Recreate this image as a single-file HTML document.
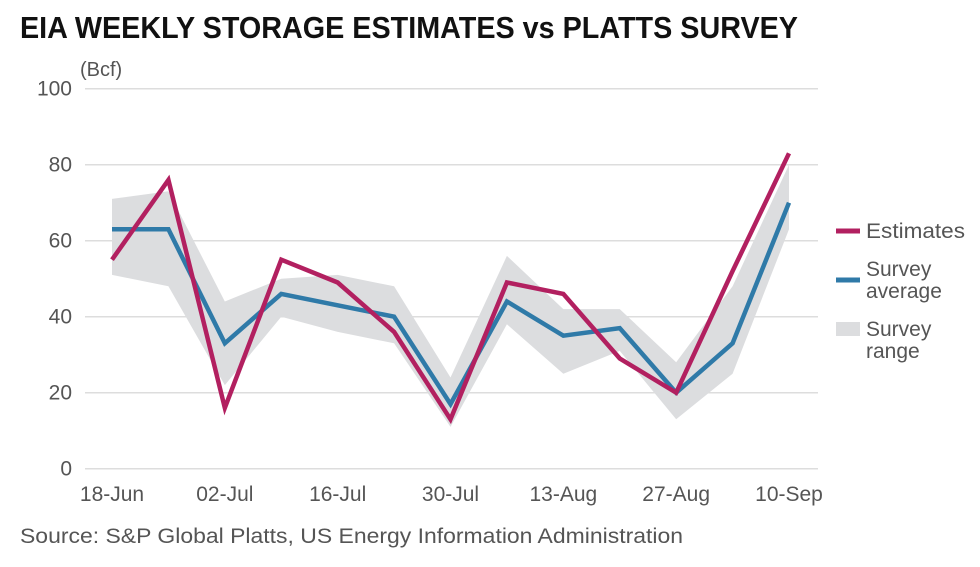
<!DOCTYPE html>
<html><head><meta charset="utf-8"><style>
body{margin:0;background:#fff;width:980px;height:562px;overflow:hidden;font-family:"Liberation Sans",sans-serif}
</style></head><body>
<svg width="980" height="562">
<text x="20" y="38" font-size="31" font-weight="bold" fill="#111" textLength="778" lengthAdjust="spacingAndGlyphs">EIA WEEKLY STORAGE ESTIMATES vs PLATTS SURVEY</text>
<text x="80" y="76" font-size="20" fill="#555">(Bcf)</text>
<g id="grid"></g><g id="plot"></g>
<g>
<line x1="836" y1="231" x2="860" y2="231" stroke="#b22060" stroke-width="5"/>
<text x="866" y="238" font-size="21" fill="#555" textLength="99" lengthAdjust="spacingAndGlyphs">Estimates</text>
<line x1="836" y1="280" x2="860" y2="280" stroke="#2f7aa8" stroke-width="5"/>
<text x="866" y="276" font-size="21" fill="#555">Survey</text>
<text x="866" y="298" font-size="21" fill="#555">average</text>
<rect x="836" y="322" width="24" height="14" fill="#dcdddf"/>
<text x="866" y="336" font-size="21" fill="#555">Survey</text>
<text x="866" y="358" font-size="21" fill="#555">range</text>
</g>
<text x="20" y="543" font-size="21" fill="#555" textLength="663" lengthAdjust="spacingAndGlyphs">Source: S&amp;P Global Platts, US Energy Information Administration</text>
</svg>
<script>
const weeks=13;
const xLabels=["18-Jun","02-Jul","16-Jul","30-Jul","13-Aug","27-Aug","10-Sep"];
const yTicks=[0,20,40,60,80,100];
const estimates=[55,76,16,55,49,36,13,49,46,29,20,52,83];
const average=[63,63,33,46,43,40,17,44,35,37,20,33,70];
const rangeHigh=[71,73,44,50,51,48,24,56,42,42,28,48,80];
const rangeLow=[51,48,22,40,36,33,11,38,25,31,13,25,63];
const NS="http://www.w3.org/2000/svg";
const X=i=>112+i*(789-112)/12;
const Y=v=>468.7-v*3.8;
const grid=document.getElementById('grid'),plot=document.getElementById('plot');
function mk(tag,at,par){const e=document.createElementNS(NS,tag);for(const k in at)e.setAttribute(k,at[k]);par.appendChild(e);return e;}
yTicks.forEach(t=>{
 const l=mk('line',{x1:85,x2:818,y1:Y(t),y2:Y(t),stroke:'#ddd','stroke-width':1.5},grid);
 
 
 const tx=mk('text',{x:72,y:Y(t)+7,'font-size':21,fill:'#555','text-anchor':'end'},grid);tx.textContent=t;
 
 
});
xLabels.forEach((s,i)=>{
 const tx=mk('text',{x:X(i*2),y:501,'font-size':21,fill:'#555','text-anchor':'middle'},grid);tx.textContent=s;
 
 
});
let d=rangeHigh.map((v,i)=>(i?'L':'M')+X(i)+','+Y(v)).join('')+rangeLow.map((v,i)=>[i,v]).reverse().map(([i,v])=>'L'+X(i)+','+Y(v)).join('')+'Z';
const area=mk('path',{d:d,fill:'#dcdddf'},plot);


function line(arr,c){return mk('polyline',{points:arr.map((v,i)=>X(i)+','+Y(v)).join(' '),fill:'none',stroke:c,'stroke-width':4.5,'stroke-linejoin':'miter'},plot);}
const a=line(average,'#2f7aa8');


const e=line(estimates,'#b22060');


</script>
</body></html>
